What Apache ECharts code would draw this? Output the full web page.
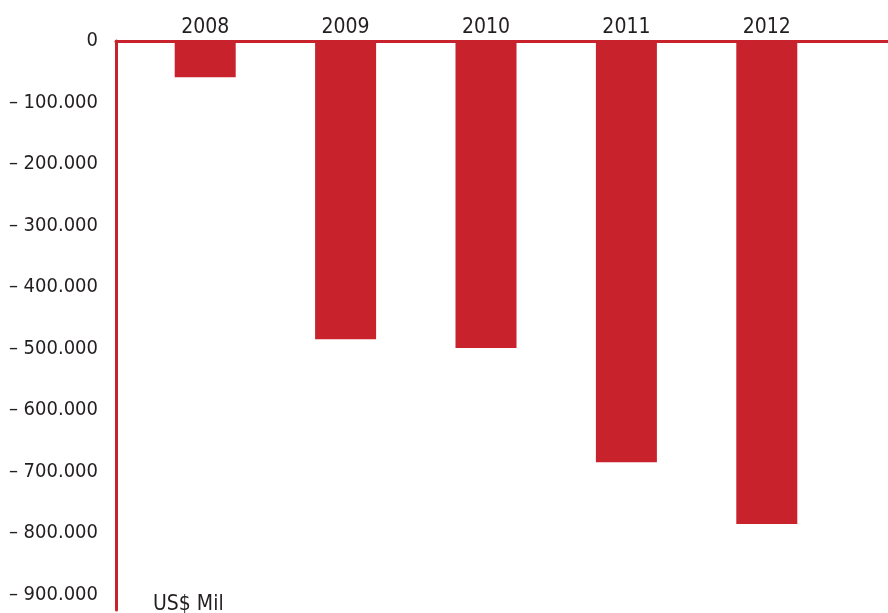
<!DOCTYPE html>
<html><head><meta charset="utf-8">
<script src="https://cdn.jsdelivr.net/npm/echarts@6/dist/echarts.min.js"></script>
<style>html,body{margin:0;padding:0;background:#fff}#c{width:888px;height:613px}</style>
</head><body><div id="c"></div>
<script>
const categories = ['2008', '2009', '2010', '2011', '2012'];
const values = [-59000, -485000, -499000, -685000, -785000];
const tickValues = [0, -100000, -200000, -300000, -400000, -500000, -600000, -700000, -800000, -900000];
const unitLabel = 'US$ Mil';

const RED = '#c8232c';
const TXT = '#231f20';
const FONT = '"DejaVu Sans Condensed", "Liberation Sans Narrow", sans-serif';
const yMin = -925000, yMax = 0;

function fmt(v) {
  if (v === 0) return '0';
  const s = Math.abs(v).toString().replace(/\B(?=(\d{3})+(?!\d))/g, '.');
  return '\u2013 ' + s;
}

const chart = echarts.init(document.getElementById('c'), null, {renderer: 'canvas'});
chart.setOption({
  animation: false,
  backgroundColor: '#fff',
  grid: [
    {left: 116, right: 0, top: 41, bottom: 3},
    {left: 135, right: 51, top: 41, bottom: 3}
  ],
  xAxis: [
    {gridIndex: 0, type: 'value', position: 'top', min: 0, max: 1,
     axisLine: {show: true, onZero: false, lineStyle: {color: RED, width: 3}},
     axisTick: {show: false}, axisLabel: {show: false}, splitLine: {show: false}},
    {gridIndex: 1, type: 'category', position: 'top', data: categories,
     axisLine: {show: false}, axisTick: {show: false},
     axisLabel: {color: TXT, fontFamily: FONT, fontSize: 21, margin: 3}}
  ],
  yAxis: [
    {gridIndex: 0, type: 'value', min: yMin, max: yMax,
     axisLine: {show: true, onZero: false, lineStyle: {color: RED, width: 3}},
     axisTick: {show: false}, splitLine: {show: false},
     axisLabel: {customValues: tickValues, formatter: fmt, color: TXT, fontFamily: FONT, fontSize: 20, margin: 18}},
    {gridIndex: 1, type: 'value', min: yMin, max: yMax, show: false}
  ],
  graphic: [
    {type: 'text', left: 153, top: 594, style: {text: unitLabel, fill: TXT, font: '21px ' + FONT}}
  ],
  series: [
    {type: 'bar', xAxisIndex: 1, yAxisIndex: 1, data: values, barWidth: 61,
     itemStyle: {color: RED}}
  ]
});
</script></body></html>
